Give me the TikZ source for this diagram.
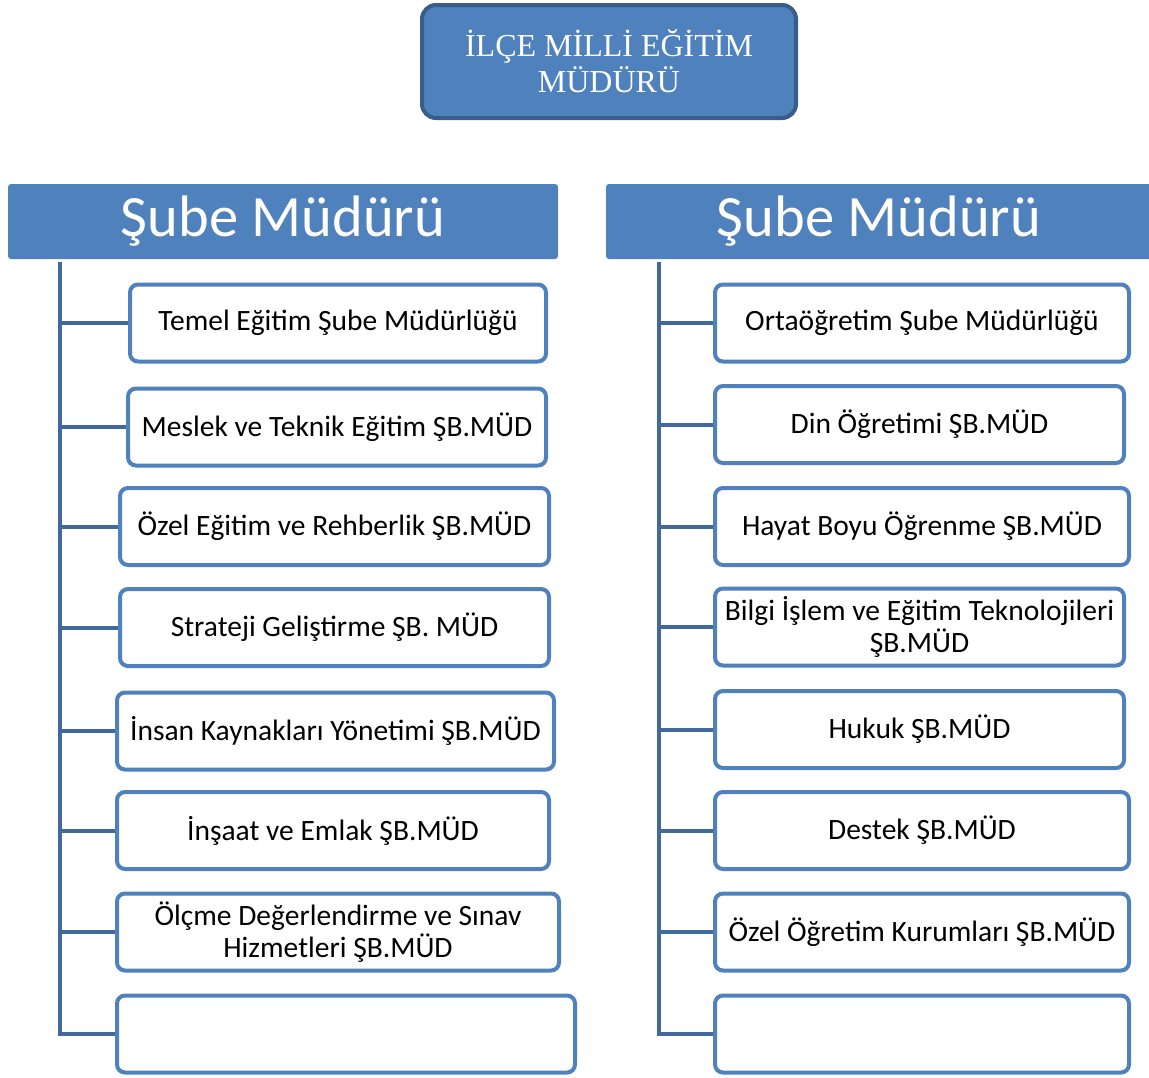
\documentclass[tikz,border=0pt]{standalone}
\usepackage{fontspec}
\setmainfont{Carlito}
\newfontfamily\titlefont{Liberation Serif}
\usetikzlibrary{positioning}

\definecolor{boxblue}{HTML}{4F81BD}
\definecolor{edgeblue}{HTML}{385D8A}
\definecolor{lineblue}{HTML}{41699E}

\begin{document}
\begin{tikzpicture}[x=1pt, y=-1pt,
    chief/.style={draw=edgeblue, line width=4pt, fill=boxblue, rounded corners=14pt,
        minimum width=374pt, minimum height=113pt, text=white, align=center,
        font=\titlefont\fontsize{32}{36}\selectfont},
    head/.style={fill=boxblue, rounded corners=3pt, minimum height=75pt,
        text=white, font=\fontsize{58.5}{64}\selectfont},
    unit/.style={draw=boxblue, line width=4pt, fill=white, rounded corners=8pt,
        minimum height=77pt, align=center, inner sep=2pt,
        font=\fontsize{29.5}{32.5}\selectfont},
    link/.style={draw=lineblue, line width=4pt}]
    \useasboundingbox (0,0) rectangle (1149,1077);

    % top
    \node[chief] (mudur) at (609,61.5) {İLÇE MİLLİ EĞİTİM\\MÜDÜRÜ};

    % headers
    \node[head, minimum width=550pt] (subeL) at (283,221.5) {Şube Müdürü};
    \node[head, minimum width=546pt] (subeR) at (879,221.5) {Şube Müdürü};

    % left column
    \node[unit, minimum width=416pt] (l1) at (338,323) {Temel Eğitim Şube Müdürlüğü};
    \node[unit, minimum width=418pt] (l2) at (337,427) {Meslek ve Teknik Eğitim ŞB.MÜD};
    \node[unit, minimum width=429pt] (l3) at (334.5,526.5) {Özel Eğitim ve Rehberlik ŞB.MÜD};
    \node[unit, minimum width=429pt] (l4) at (334.5,627.5) {Strateji Geliştirme ŞB. MÜD};
    \node[unit, minimum width=437pt] (l5) at (335.5,731) {İnsan Kaynakları Yönetimi ŞB.MÜD};
    \node[unit, minimum width=432pt] (l6) at (333,830.5) {İnşaat ve Emlak ŞB.MÜD};
    \node[unit, minimum width=442pt] (l7) at (338,932) {Ölçme Değerlendirme ve Sınav\\Hizmetleri ŞB.MÜD};
    \node[unit, minimum width=458pt] (l8) at (346,1034) {};

    % right column
    \node[unit, minimum width=414pt] (r1) at (922,323) {Ortaöğretim Şube Müdürlüğü};
    \node[unit, minimum width=409pt] (r2) at (919.5,424.5) {Din Öğretimi ŞB.MÜD};
    \node[unit, minimum width=414pt] (r3) at (922,526.5) {Hayat Boyu Öğrenme ŞB.MÜD};
    \node[unit, minimum width=409pt] (r4) at (919.5,627) {Bilgi İşlem ve Eğitim Teknolojileri\\ŞB.MÜD};
    \node[unit, minimum width=409pt] (r5) at (919.5,729.5) {Hukuk ŞB.MÜD};
    \node[unit, minimum width=414pt] (r6) at (922,830.5) {Destek ŞB.MÜD};
    \node[unit, minimum width=414pt] (r7) at (922,932) {Özel Öğretim Kurumları ŞB.MÜD};
    \node[unit, minimum width=414pt] (r8) at (922,1034) {};

    % trunks
    \coordinate (trunkL) at (60,262);
    \coordinate (trunkR) at (659,262);
    \draw[link] (trunkL) -- (trunkL |- l8.west) -- (l8.west);
    \draw[link] (trunkR) -- (trunkR |- r8.west) -- (r8.west);
    \foreach \i in {1,...,7} {
        \draw[link] (trunkL |- l\i.west) -- (l\i.west);
        \draw[link] (trunkR |- r\i.west) -- (r\i.west);
    }
\end{tikzpicture}
\end{document}
